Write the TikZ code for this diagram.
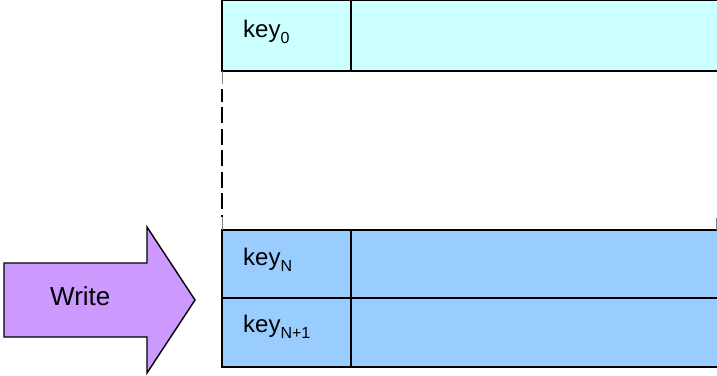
\documentclass[tikz,border=0pt]{standalone}
\usepackage{fontspec}
\setmainfont{Liberation Sans}
\definecolor{rowtop}{RGB}{204,255,255}
\definecolor{rowlow}{RGB}{153,204,255}
\definecolor{arrowfill}{RGB}{204,153,255}
% lowered small index after a key name
\newcommand\keyidx[1]{\raisebox{-0.27em}{\fontsize{16}{16}\selectfont #1}}
\begin{document}
\begin{tikzpicture}[x=1pt,y=-1pt,
  cell/.style={draw=black,line width=1.6pt,inner sep=0pt,outer sep=0pt,anchor=north west},
  keycell/.style={cell,minimum width=129pt},
  valcell/.style={cell,minimum width=372pt},
  keytext/.style={font=\fontsize{24}{24}\selectfont,anchor=base west,inner sep=0pt},
  gapline/.style={line width=1.6pt,dash pattern=on 16pt off 5.5pt,dash phase=-18pt},
  stub/.style={line width=1pt,draw=gray}]
\useasboundingbox (0,0) rectangle (717,375);
\clip (0,0) rectangle (717,375);

% first entry
\node[keycell,fill=rowtop,minimum height=71pt] (k0) at (222,0) {};
\node[valcell,fill=rowtop,minimum height=71pt] (v0) at (351,0) {};
\node[keytext] (t0) at (243,37) {key\keyidx{0}};

% entries N and N+1
\node[keycell,fill=rowlow,minimum height=68pt] (kN) at (222,230) {};
\node[valcell,fill=rowlow,minimum height=68pt] (vN) at (351,230) {};
\node[keycell,fill=rowlow,minimum height=69pt] (kN1) at (222,298) {};
\node[valcell,fill=rowlow,minimum height=69pt] (vN1) at (351,298) {};
\node[keytext] (tN) at (243,265) {key\keyidx{N}};
\node[keytext] (tN1) at (243,332) {key\keyidx{N+1}};

% elided rows between
\draw[stub] (k0.south west) -- ++(0,13);
\draw[stub] (kN.north west) -- ++(0,-13);
\draw[stub] (716,230) -- ++(0,-12);
\draw[gapline] ([yshift=-18pt]k0.south west) -- ([yshift=13pt]kN.north west);

% write arrow
\draw[fill=arrowfill,line width=1.4pt,line join=miter]
  (4,263) -- (147,263) -- (147,227) -- (195,300) -- (147,373) -- (147,337) -- (4,337) -- cycle;
\node[keytext,font=\fontsize{26}{26}\selectfont] (write) at (50,305) {Write};
\end{tikzpicture}
\end{document}
